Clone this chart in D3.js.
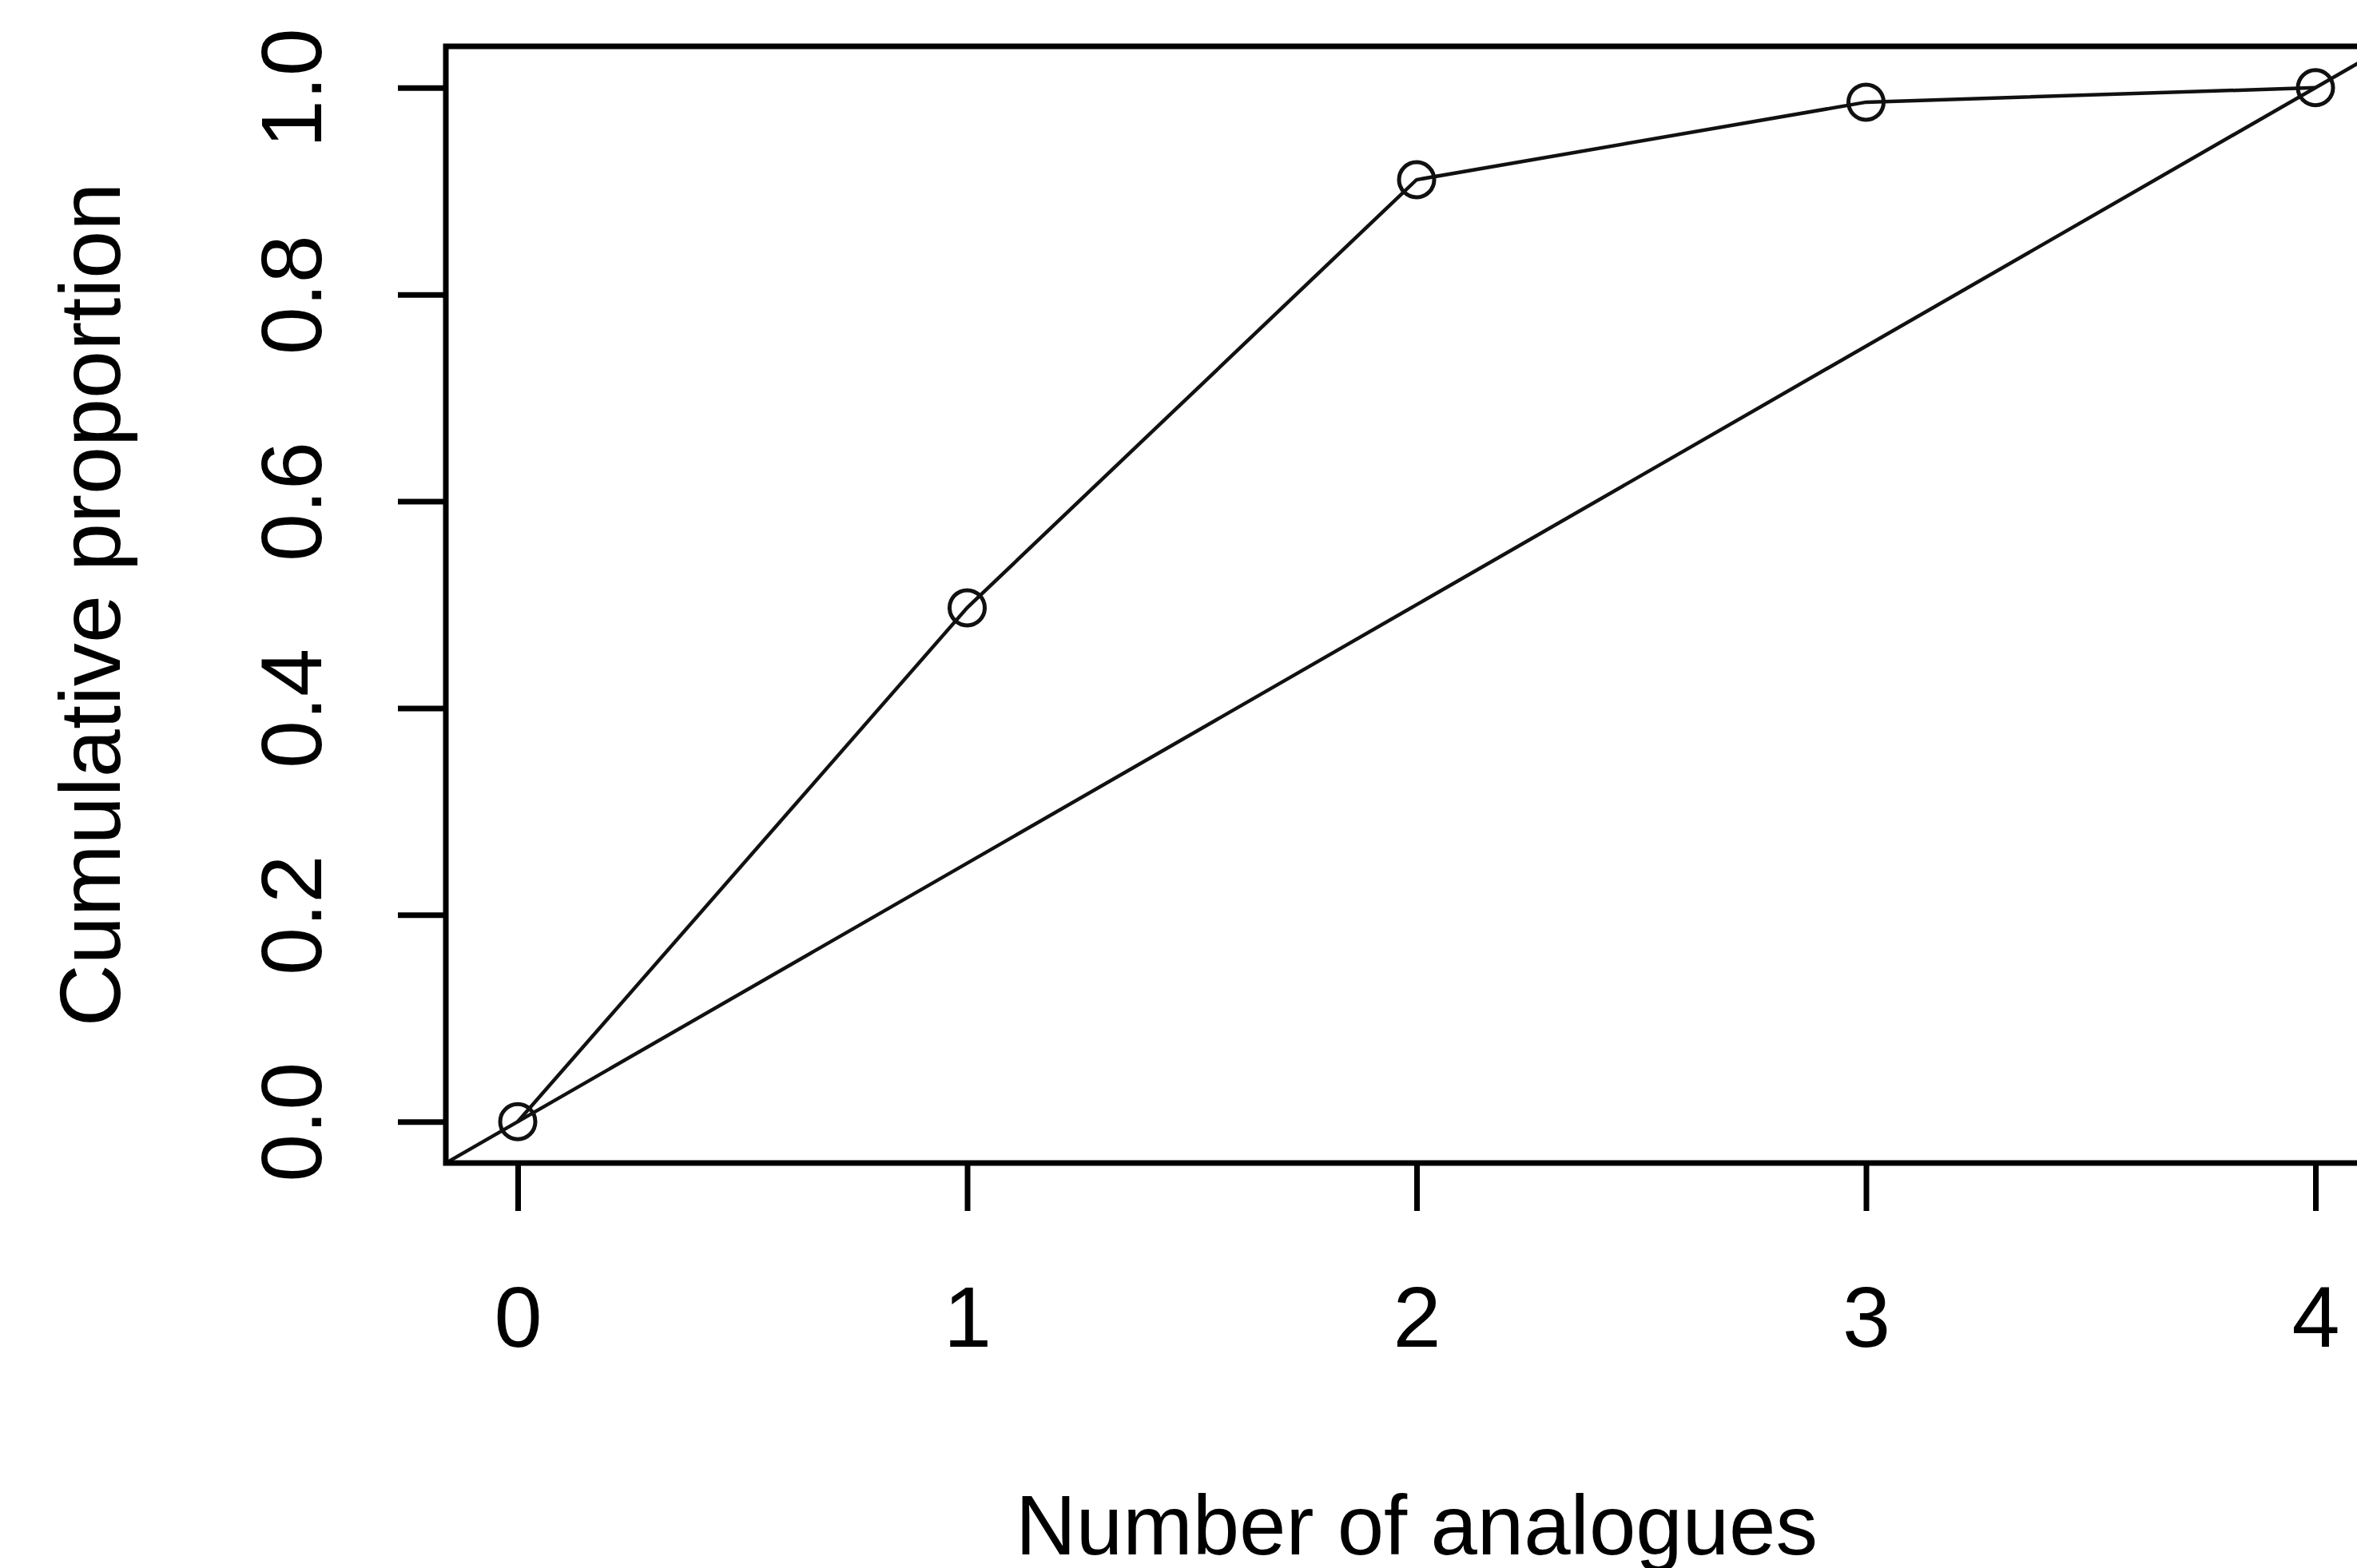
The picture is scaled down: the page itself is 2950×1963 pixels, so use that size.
<!DOCTYPE html>
<html lang="en">
<head>
  <meta charset="utf-8" />
  <title>Cumulative proportion</title>
  <script type="text/javascript" src="https://cdn.jsdelivr.net/npm/d3@7/dist/d3.min.js"></script>
  <style>
    body { margin: 0; background: white; }
    text { font-family: "Liberation Sans", Arial, sans-serif; fill: #000; }
  </style>
</head>
<body>
<script type="text/javascript">

// data
var analogues = [0, 1, 2, 3, 4];
var cumProp = [0, 0.497, 0.911, 0.986, 1.0];
var xTicks = [0, 1, 2, 3, 4];
var yTicks = [0, 0.2, 0.4, 0.6, 0.8, 1.0];
var refIntercept = [0];
var refSlope = [0.25];
var xLabel = "Number of analogues";
var yLabel = "Cumulative proportion";

var w = 2950;
var h = 1963;
var fontSize = 108;
var box = {left: 558, right: 2988, top: 58, bottom: 1456};

// R style 4% extension on both axes
var xScale = d3.scaleLinear()
               .domain([-0.16, 4.16])
               .range([box.left, box.right]);
var yScale = d3.scaleLinear()
               .domain([-0.04, 1.04])
               .range([box.bottom, box.top]);

var svg = d3.select("body")
            .append("svg")
            .attr("width", w)
            .attr("height", h);

svg.append("rect")
   .attr("width", w)
   .attr("height", h)
   .attr("fill", "white");

svg.append("clipPath")
   .attr("id", "plotclip")
   .append("rect")
   .attr("x", box.left)
   .attr("y", box.top)
   .attr("width", box.right - box.left)
   .attr("height", box.bottom - box.top);

var plot = svg.append("g").attr("clip-path", "url(#plotclip)");

// reference line y = a + b x across the full x range
var xd = xScale.domain();
plot.selectAll("line.ref")
    .data(refSlope)
    .enter()
    .append("line")
    .attr("class", "ref")
    .attr("x1", xScale(xd[0]))
    .attr("y1", function(b, i) { return yScale(refIntercept[i] + b * xd[0]); })
    .attr("x2", xScale(xd[1]))
    .attr("y2", function(b, i) { return yScale(refIntercept[i] + b * xd[1]); })
    .attr("stroke", "#111")
    .attr("stroke-width", 4.5);

var pts = analogues.map(function(a, i) { return {x: a, y: cumProp[i]}; });

var line = d3.line()
             .x(function(d) { return xScale(d.x); })
             .y(function(d) { return yScale(d.y); });

plot.append("path")
    .datum(pts)
    .attr("d", line)
    .attr("fill", "none")
    .attr("stroke", "#111")
    .attr("stroke-width", 4.5);

plot.selectAll("circle")
    .data(pts)
    .enter()
    .append("circle")
    .attr("cx", function(d) { return xScale(d.x); })
    .attr("cy", function(d) { return yScale(d.y); })
    .attr("r", 22)
    .attr("fill", "none")
    .attr("stroke", "#111")
    .attr("stroke-width", 5);

// axes
var xAxis = d3.axisBottom(xScale)
              .tickValues(xTicks)
              .tickSize(60)
              .tickFormat(d3.format("d"));
var yAxis = d3.axisLeft(yScale)
              .tickValues(yTicks)
              .tickSize(60)
              .tickFormat(d3.format(".1f"));

var gx = svg.append("g")
            .attr("transform", "translate(0," + box.bottom + ")")
            .call(xAxis);
var gy = svg.append("g")
            .attr("transform", "translate(" + box.left + ",0)")
            .call(yAxis);

[gx, gy].forEach(function(g) {
  g.select(".domain").remove();
  g.selectAll(".tick line").attr("stroke", "#000").attr("stroke-width", 7);
  g.selectAll(".tick text")
   .attr("font-size", fontSize)
   .attr("font-family", "Liberation Sans, Arial, sans-serif")
   .attr("fill", "#000");
});

gx.selectAll(".tick text")
  .attr("y", 230)
  .attr("dy", null);

gy.selectAll(".tick text")
  .attr("x", null)
  .attr("dy", null)
  .attr("text-anchor", "middle")
  .attr("transform", "translate(-156,0) rotate(-90)");

// box
svg.append("rect")
   .attr("x", box.left)
   .attr("y", box.top)
   .attr("width", box.right - box.left)
   .attr("height", box.bottom - box.top)
   .attr("fill", "none")
   .attr("stroke", "#000")
   .attr("stroke-width", 7);

// axis titles
svg.append("text")
   .attr("x", (box.left + box.right) / 2)
   .attr("y", 1946)
   .attr("text-anchor", "middle")
   .attr("font-size", 105)
   .text(xLabel);

svg.append("text")
   .attr("transform", "translate(150," + (box.top + box.bottom) / 2 + ") rotate(-90)")
   .attr("text-anchor", "middle")
   .attr("font-size", fontSize)
   .text(yLabel);

</script>
</body>
</html>
